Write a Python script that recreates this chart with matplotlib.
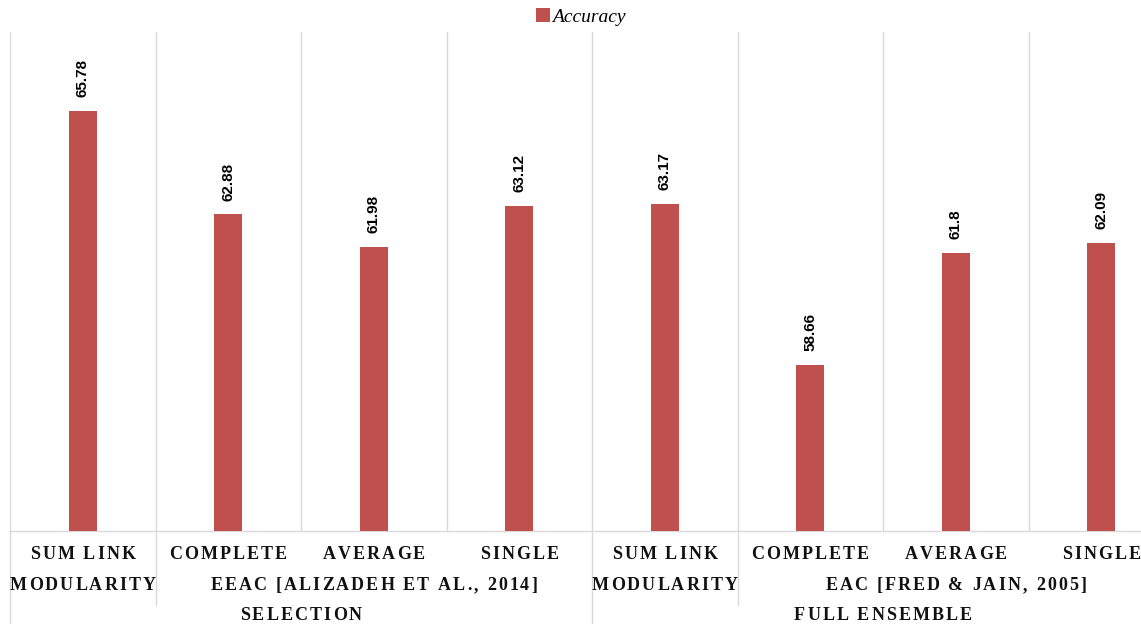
import numpy as np
import matplotlib
matplotlib.use("Agg")
import matplotlib.pyplot as plt
from matplotlib.lines import Line2D
from matplotlib.font_manager import FontProperties, findfont
from matplotlib.ft2font import FT2Font
from matplotlib import transforms

# ---------------- data ----------------
row1_labels = ["SUM LINK", "COMPLETE", "AVERAGE", "SINGLE",
               "SUM LINK", "COMPLETE", "AVERAGE", "SINGLE"]
row2_labels = ["MODULARITY", "EEAC [ALIZADEH ET AL., 2014]",
               "MODULARITY", "EAC [FRED & JAIN, 2005]"]
row2_spans = [(0, 0), (1, 3), (4, 4), (5, 7)]
row3_labels = ["SELECTION", "FULL ENSEMBLE"]
row3_spans = [(0, 3), (4, 7)]
values = [65.78, 62.88, 61.98, 63.12, 63.17, 58.66, 61.8, 62.09]
value_labels = ["65.78", "62.88", "61.98", "63.12", "63.17", "58.66", "61.8", "62.09"]
series_name = "Accuracy"

# ---------------- figure ----------------
W, H = 1141, 624
fig = plt.figure(figsize=(W / 100, H / 100), dpi=100)
n = len(values)
cat_w = 145.5
ax_left, ax_bottom_px, ax_top_px = 10, 531, 32
ax = fig.add_axes([ax_left / W, (H - ax_bottom_px) / H,
                   n * cat_w / W, (ax_bottom_px - ax_top_px) / H])

bar_color = "#C0504D"
grid_color = "#D9D9D9"
x = np.arange(n)
bars = ax.bar(x, values, width=0.19, color=bar_color, label=series_name, zorder=3)

ax.set_xlim(-0.5, n - 0.5)
ax.set_ylim(54, 68)
ax.set_xticks([])
ax.set_yticks([])
ax.set_xticks(np.arange(n + 1) - 0.5, minor=True)
ax.tick_params(axis="x", which="minor", length=0)
ax.grid(True, axis="x", which="minor", color=grid_color, lw=1.0, zorder=0)
for s in ["top", "left", "right"]:
    ax.spines[s].set_visible(False)
ax.spines["bottom"].set_color(grid_color)
ax.spines["bottom"].set_linewidth(1.0)

# value labels
for xi, v, lab in zip(x, values, value_labels):
    ax.annotate(lab, (xi, v), xytext=(0, 10), textcoords="offset points",
                ha="center", va="bottom", rotation=90,
                fontfamily="Liberation Sans", fontweight="bold", fontsize=11)

# ---------------- category axis labels (letter-spaced) ----------------
lab_prop = FontProperties(family="Liberation Serif", weight="bold", size=13)
ft = FT2Font(findfont(lab_prop))
ft.set_size(lab_prop.get_size_in_points(), 72)

def advance(c):
    g = ft.load_char(ord(c))
    return g.linearHoriAdvance / 65536.0

def spaced_text(xc, y, s, spacing=1.5):
    trans = ax.get_xaxis_transform()
    widths = [advance(c) for c in s]
    total = sum(widths) + spacing * (len(s) - 1)
    off = -total / 2
    for c, w in zip(s, widths):
        if c != " ":
            tr = transforms.offset_copy(trans, fig=fig, x=off + w / 2, y=0, units="points")
            ax.text(xc, y, c, fontproperties=lab_prop, transform=tr,
                    ha="center", va="baseline", clip_on=False, color="#111111")
        off += w + spacing

axh = ax_bottom_px - ax_top_px
def ypos(px):
    return (ax_bottom_px - px) / axh

y1, y2, y3 = ypos(559), ypos(590), ypos(620)
for xi, lab in zip(x, row1_labels):
    spaced_text(xi, y1, lab)
for lab, (a, b) in zip(row2_labels, row2_spans):
    spaced_text((a + b) / 2, y2, lab)
for lab, (a, b) in zip(row3_labels, row3_spans):
    spaced_text((a + b) / 2, y3, lab)

# separator lines below the axis
xt = ax.get_xaxis_transform()
for xb in [-0.5, 3.5]:
    ax.add_line(Line2D([xb, xb], [0, ypos(H + 2)], transform=xt, color=grid_color,
                       lw=1.0, clip_on=False))
for xb in [0.5, 4.5]:
    ax.add_line(Line2D([xb, xb], [0, ypos(605)], transform=xt, color=grid_color,
                       lw=1.0, clip_on=False))

# legend
fig.legend(handles=[bars], labels=[series_name], loc="center",
           bbox_to_anchor=(581 / W, 1 - 17 / H), frameon=False,
           handlelength=0.7, handleheight=0.7, handletextpad=0.15,
           prop=FontProperties(family="Liberation Serif", style="italic", size=14))

fig.savefig("out.png", dpi=100)
